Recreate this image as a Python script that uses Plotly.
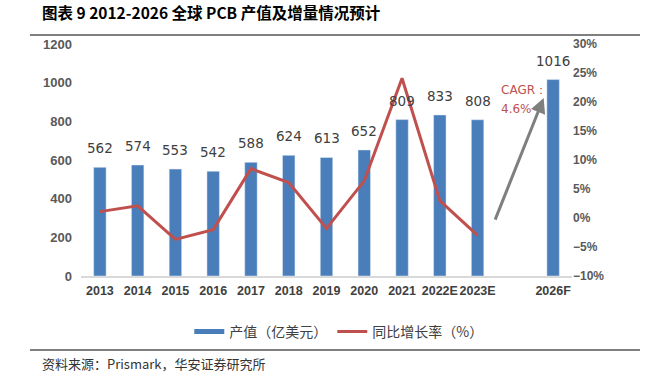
import plotly.graph_objects as go

labels = ["2013", "2014", "2015", "2016", "2017", "2018", "2019", "2020", "2021", "2022E", "2023E", "", "2026F"]
output_value = [562, 574, 553, 542, 588, 624, 613, 652, 809, 833, 808, None, 1016]
growth_rate = [1.1, 2.1, -3.7, -2.0, 8.5, 6.1, -1.8, 6.4, 24.1, 3.0, -3.0, None, None]
cagr_label = "CAGR："
cagr_value = "4.6%"

x_pos = list(range(len(labels)))

BLUE = "#4A7EBB"
RED = "#C0504D"
TICK = "#595959"

fig = go.Figure()

fig.add_trace(go.Bar(
    x=x_pos, y=output_value, marker_color=BLUE, width=0.33,
    showlegend=False, yaxis="y", hoverinfo="skip",
))
fig.add_trace(go.Scatter(
    x=x_pos, y=growth_rate, mode="lines", line=dict(color=RED, width=3),
    yaxis="y2", showlegend=False, connectgaps=False,
))
# legend swatches
fig.add_trace(go.Scatter(x=[None], y=[None], mode="lines", line=dict(color=BLUE, width=5),
                         name="产值（亿美元）", yaxis="y"))
fig.add_trace(go.Scatter(x=[None], y=[None], mode="lines", line=dict(color=RED, width=3),
                         name="同比增长率（%）", yaxis="y2"))

annotations = []
for xi, v in zip(x_pos, output_value):
    if v is None:
        continue
    annotations.append(dict(
        x=xi, y=v, xref="x", yref="y", text=str(v), showarrow=False,
        yanchor="bottom", yshift=9,
        font=dict(family="DejaVu Sans", size=13.5, color="#404040"),
    ))

# CAGR arrow
annotations.append(dict(
    x=11.75, y=921, xref="x", yref="y", ax=10.45, ay=284, axref="x", ayref="y",
    showarrow=True, arrowhead=2, arrowsize=1, arrowwidth=3, arrowcolor="#7F7F7F", text="",
))
annotations.append(dict(
    x=10.58, y=962, xref="x", yref="y", text=cagr_label, showarrow=False,
    xanchor="left", yanchor="middle", align="left",
    font=dict(family="DejaVu Sans", size=12, color=RED),
))
annotations.append(dict(
    x=10.58, y=864, xref="x", yref="y", text=cagr_value, showarrow=False,
    xanchor="left", yanchor="middle", align="left",
    font=dict(family="DejaVu Sans", size=12, color=RED),
))
# source
annotations.append(dict(
    x=-0.083, y=-0.379, xref="paper", yref="paper", text="资料来源：Prismark，华安证券研究所",
    showarrow=False, xanchor="left", yanchor="middle",
    font=dict(family="Noto Sans CJK SC", size=13, color="#333333"),
))
# rule under the title (drawn as a thin filled box)
annotations.append(dict(
    x=0.517, y=1.0388, xref="paper", yref="paper", text=" ", showarrow=False,
    xanchor="center", yanchor="middle", width=610, height=2, borderpad=0, borderwidth=0,
    bgcolor="#7F7F7F", font=dict(size=1),
))

fig.update_layout(
    width=645, height=381,
    margin=dict(l=81, r=73, t=44, b=105, autoexpand=False),
    paper_bgcolor="white", plot_bgcolor="white",
    title=dict(
        text="<b>图表 9 2012-2026 全球 PCB 产值及增量情况预计</b>",
        x=42 / 645, xanchor="left", xref="container",
        y=1 - 14 / 381, yanchor="middle", yref="container",
        font=dict(family="Noto Sans CJK SC", size=15.5, color="#000000"),
    ),
    xaxis=dict(
        range=[-0.5, len(labels) - 0.5], tickvals=x_pos, ticktext=labels, tickangle=0,
        showgrid=False, zeroline=False, showline=True, linecolor="#D9D9D9", linewidth=1.5,
        ticks="", automargin=False, ticklabelstandoff=2,
        tickfont=dict(family="Liberation Sans", size=12.5, color="#404040", weight="bold"),
    ),
    yaxis=dict(
        range=[0, 1200], dtick=200, showgrid=False, zeroline=False, showline=False,
        automargin=False, ticklabelstandoff=8,
        tickfont=dict(family="Liberation Sans", size=13, color=TICK, weight="bold"),
    ),
    yaxis2=dict(
        range=[-10, 30], dtick=5, overlaying="y", side="right", showgrid=False,
        zeroline=False, showline=False, ticksuffix="%", automargin=False,
        tickfont=dict(family="Liberation Sans", size=12, color=TICK, weight="bold"),
    ),
    legend=dict(
        orientation="h", x=0.525, xanchor="center", y=-0.241, yanchor="middle",
        font=dict(family="Noto Sans CJK SC", size=14, color="#404040"),
        itemwidth=30, bgcolor="rgba(0,0,0,0)",
    ),
    annotations=annotations,
    shapes=[
        dict(type="line", xref="paper", yref="paper", x0=-0.104, x1=1.1385, y0=1.0388, y1=1.0388,
             line=dict(color="#7F7F7F", width=2), layer="above"),
        dict(type="line", xref="paper", yref="paper", x0=-0.104, x1=1.1385, y0=-0.319, y1=-0.319,
             line=dict(color="#7F7F7F", width=2), layer="above"),
    ],
)

fig.write_html("out.html", config={"displayModeBar": False},
               post_script="document.body.style.margin='0';")
